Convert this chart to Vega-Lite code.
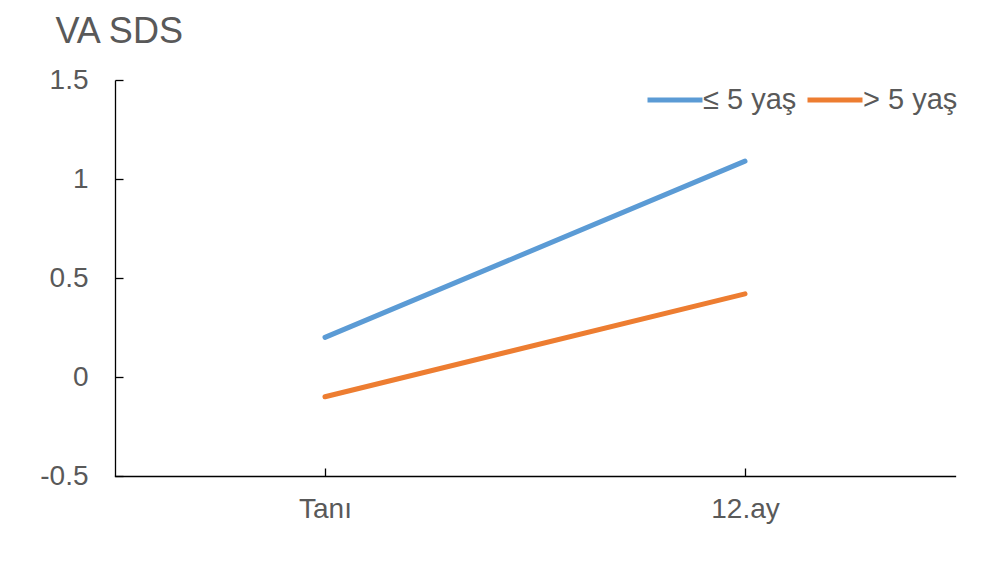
{
  "$schema": "https://vega.github.io/schema/vega-lite/v6.json",
  "width": 840,
  "height": 396,
  "autosize": {"type": "none"},
  "padding": {"left": 115, "top": 80, "right": 27, "bottom": 102},
  "background": "white",
  "config": {
    "view": {"stroke": null},
    "font": "Liberation Sans",
    "axis": {"grid": false, "domainColor": "#000000", "tickColor": "#000000", "domainWidth": 1.3, "tickWidth": 1.3, "labelColor": "#595959", "labelFont": "Liberation Sans", "labelFontSize": 28}
  },
  "data": {
    "values": [
      {"zaman": "Tanı", "grup": "≤ 5 yaş", "deger": 0.2},
      {"zaman": "12.ay", "grup": "≤ 5 yaş", "deger": 1.09},
      {"zaman": "Tanı", "grup": "> 5 yaş", "deger": -0.1},
      {"zaman": "12.ay", "grup": "> 5 yaş", "deger": 0.42}
    ]
  },
  "mark": {"type": "line", "strokeWidth": 5, "strokeCap": "round"},
  "encoding": {
    "x": {
      "field": "zaman", "type": "nominal", "sort": ["Tanı", "12.ay"],
      "scale": {"type": "point", "padding": 0.5},
      "axis": {"title": null, "labelAngle": 0, "tickSize": -8, "labelPadding": 27, "domainCap": "square"}
    },
    "y": {
      "field": "deger", "type": "quantitative",
      "scale": {"domain": [-0.5, 1.5], "nice": false, "zero": false},
      "axis": {"values": [-0.5, 0, 0.5, 1, 1.5], "labelExpr": "replace(format(datum.value, '~g'), '−', '-')", "tickSize": -8, "labelPadding": 35,
        "title": "VA SDS", "titleAngle": 0, "titleX": -60, "titleY": -38, "titleAlign": "left", "titleBaseline": "alphabetic",
        "titleFontSize": 36, "titleFontWeight": "normal", "titleColor": "#595959", "titleFont": "Liberation Sans"}
    },
    "color": {
      "field": "grup", "type": "nominal", "sort": ["≤ 5 yaş", "> 5 yaş"],
      "scale": {"domain": ["≤ 5 yaş", "> 5 yaş"], "range": ["#5B9BD5", "#ED7D31"]},
      "legend": {"title": null, "orient": "none", "legendX": 530, "legendY": -10, "direction": "horizontal",
        "symbolType": "stroke", "symbolSize": 3025, "symbolStrokeWidth": 5, "labelFontSize": 29, "labelColor": "#595959",
        "labelFont": "Liberation Sans", "labelOffset": -2, "columnPadding": 0, "labelLimit": 200}
    }
  }
}
